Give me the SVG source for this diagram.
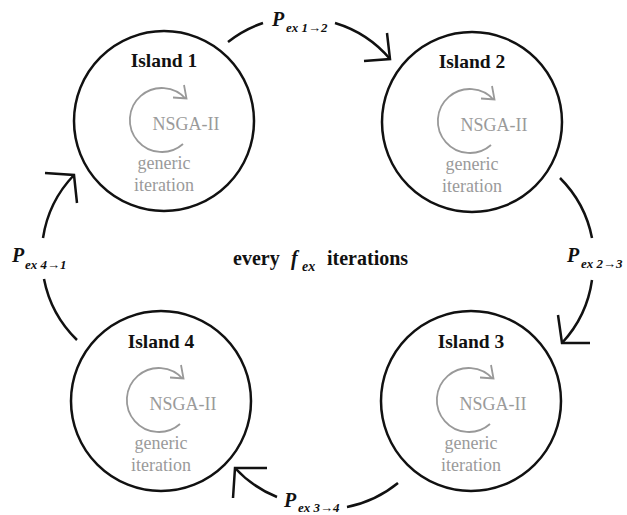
<svg xmlns="http://www.w3.org/2000/svg" width="627" height="515" viewBox="0 0 627 515">
<defs>
<style>
.isl{fill:none;stroke:#111;stroke-width:2.5}
.con{fill:none;stroke:#111;stroke-width:2.5}
.loop{fill:none;stroke:#999;stroke-width:1.8}
.title{font-family:"Liberation Serif",serif;font-weight:bold;font-size:19.5px;fill:#111;text-anchor:middle}
.gr{font-family:"Liberation Serif",serif;font-size:18px;fill:#9a9a9a;text-anchor:middle}
.P{font-family:"Liberation Serif",serif;font-weight:bold;font-style:italic;font-size:20px;fill:#111}
.sub{font-family:"Liberation Serif",serif;font-weight:bold;font-style:italic;font-size:13px;fill:#111}
.mid{font-family:"Liberation Serif",serif;font-weight:bold;font-size:20px;fill:#111}
</style>
</defs>
<rect width="627" height="515" fill="#fff"/>
<g id="island1">
<circle class="isl" cx="164" cy="121" r="90"/>
<text class="title" x="164" y="67">Island 1</text>
<path class="loop" d="M183,144 A32,32 0 1 1 186,99 M184,85 L186.5,98.5 L173,97.5"/>
<text class="gr" x="186" y="130">NSGA-II</text>
<text class="gr" x="164" y="169">generic</text>
<text class="gr" x="164" y="191">iteration</text>
</g>
<g id="island2">
<circle class="isl" cx="472" cy="122" r="90"/>
<text class="title" x="472" y="68">Island 2</text>
<path class="loop" d="M491,145 A32,32 0 1 1 494,100 M492,86 L494.5,99.5 L481,98.5"/>
<text class="gr" x="494" y="131">NSGA-II</text>
<text class="gr" x="472" y="170">generic</text>
<text class="gr" x="472" y="192">iteration</text>
</g>
<g id="island3">
<circle class="isl" cx="471" cy="401" r="90"/>
<text class="title" x="471" y="348">Island 3</text>
<path class="loop" d="M490,424 A32,32 0 1 1 493,379 M491,365 L493.5,378.5 L480,377.5"/>
<text class="gr" x="493" y="410">NSGA-II</text>
<text class="gr" x="471" y="449">generic</text>
<text class="gr" x="471" y="471">iteration</text>
</g>
<g id="island4">
<circle class="isl" cx="161" cy="401" r="90"/>
<text class="title" x="161" y="348">Island 4</text>
<path class="loop" d="M180,424 A32,32 0 1 1 183,379 M181,365 L183.5,378.5 L170,377.5"/>
<text class="gr" x="183" y="410">NSGA-II</text>
<text class="gr" x="161" y="449">generic</text>
<text class="gr" x="161" y="471">iteration</text>
</g>
<g id="connectors">
<path class="con" d="M228,42 A116,116 0 0 1 263,23 M335,23 A116,116 0 0 1 390,59"/>
<polyline class="con" points="387,33 390,59 364,61"/>
<path class="con" d="M560,178 A116,116 0 0 1 592,238 M592,280 A116,116 0 0 1 562,343"/>
<polyline class="con" points="558,315 562,343 590,343"/>
<path class="con" d="M398,483 A116,116 0 0 1 347,507 M277,497 A116,116 0 0 1 235,468"/>
<polyline class="con" points="267,468 235,468 233,498"/>
<path class="con" d="M77,340 A116,116 0 0 1 44,279 M43,238 A116,116 0 0 1 74,175"/>
<polyline class="con" points="45,173 74,175 77,203"/>
</g>
<g id="labels">
<text class="P" x="272" y="26">P</text><text class="sub" x="286" y="32">ex 1→2</text>
<text class="P" x="567" y="262">P</text><text class="sub" x="581" y="268">ex 2→3</text>
<text class="P" x="12" y="262">P</text><text class="sub" x="25" y="269">ex 4→1</text>
<text class="P" x="284" y="507">P</text><text class="sub" x="298" y="512">ex 3→4</text>
<text class="mid" x="233" y="265">every</text>
<text class="P" x="291" y="265">f</text><text class="sub" x="302" y="271" style="font-size:14px">ex</text>
<text class="mid" x="327" y="265">iterations</text>
</g>
</svg>
